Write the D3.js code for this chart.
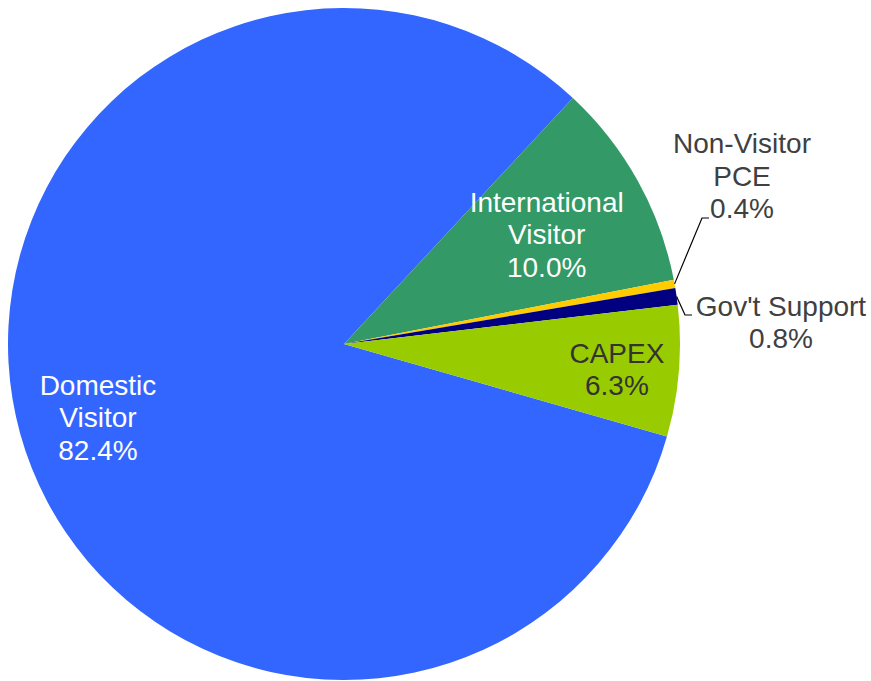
<!DOCTYPE html>
<html>
<head>
<meta charset="utf-8">
<script src="https://cdn.jsdelivr.net/npm/d3@7"></script>
<style>
  html, body { margin: 0; padding: 0; background: #ffffff; }
  svg { display: block; }
  text { font-family: "Liberation Sans", Arial, sans-serif; font-size: 28px; }
</style>
</head>
<body>
<svg id="chart" width="871" height="681"></svg>
<script>
// Sources of tourism-related spending (share of total, %)
const categories = ["Domestic Visitor", "International Visitor", "Non-Visitor PCE", "Gov't Support", "CAPEX"];
const labelLines = [["Domestic", "Visitor"], ["International", "Visitor"], ["Non-Visitor", "PCE"], ["Gov't Support"], ["CAPEX"]];
const values = [82.4, 10.0, 0.4, 0.8, 6.3];
const colors = ["#3366FF", "#339966", "#FFCC00", "#000080", "#99CC00"];

const W = 871, H = 681;
const cx = 344, cy = 344, R = 336;

const svg = d3.select("#chart");
const g = svg.append("g").attr("transform", `translate(${cx},${cy})`);

const rad = deg => deg * Math.PI / 180;
const pie = d3.pie().sort(null).value(d => d.value)
  .startAngle(rad(106)).endAngle(rad(106) + 2 * Math.PI);

const data = categories.map((c, i) => ({ name: c, value: values[i], color: colors[i], lines: labelLines[i] }));
const arcs = pie(data);
const arc = d3.arc().innerRadius(0).outerRadius(R);

g.selectAll("path.slice")
  .data(arcs)
  .join("path")
  .attr("class", "slice")
  .attr("d", arc)
  .attr("fill", d => d.data.color);

// Label layout: inside labels sit on a radius fraction, outside ones get a leader line
const layout = {
  "Domestic Visitor":      { inside: true,  rf: 0.76, yAdj: 5, fill: "#ffffff" },
  "International Visitor": { inside: true,  rf: 0.69, yAdj: 3, fill: "#ffffff" },
  "CAPEX":                 { inside: true,  rf: 0.815, yAdj: 3, fill: "#333333" },
  "Non-Visitor PCE":       { inside: false, dx: 398, dy: -168.5, bend: [358, -126], fill: "#404040" },
  "Gov't Support":         { inside: false, dx: 437, dy: -22,    bend: [341, -29],  fill: "#404040" }
};
const lineH = 32.5;

arcs.forEach(d => {
  const L = layout[d.data.name];
  const mid = (d.startAngle + d.endAngle) / 2;
  const lines = d.data.lines.concat([d3.format(".1f")(d.data.value) + "%"]);
  let tx, ty;
  if (L.inside) {
    const r = R * L.rf;
    tx = r * Math.sin(mid);
    ty = -r * Math.cos(mid) + L.yAdj;
  } else {
    tx = L.dx; ty = L.dy;
    const ex = R * Math.sin(mid), ey = -R * Math.cos(mid);
    g.append("polyline")
      .attr("points", [[ex, ey], L.bend, [L.bend[0] + 7, L.bend[1]]].map(p => p.join(",")).join(" "))
      .attr("fill", "none")
      .attr("stroke", "#000000")
      .attr("stroke-width", 1.2);
  }
  const n = lines.length;
  const text = g.append("text")
    .attr("text-anchor", "middle")
    .attr("fill", L.fill);
  lines.forEach((s, i) => {
    text.append("tspan")
      .attr("x", tx)
      .attr("y", ty + (i - (n - 1) / 2) * lineH + 10)
      .text(s);
  });
});
</script>
</body>
</html>
